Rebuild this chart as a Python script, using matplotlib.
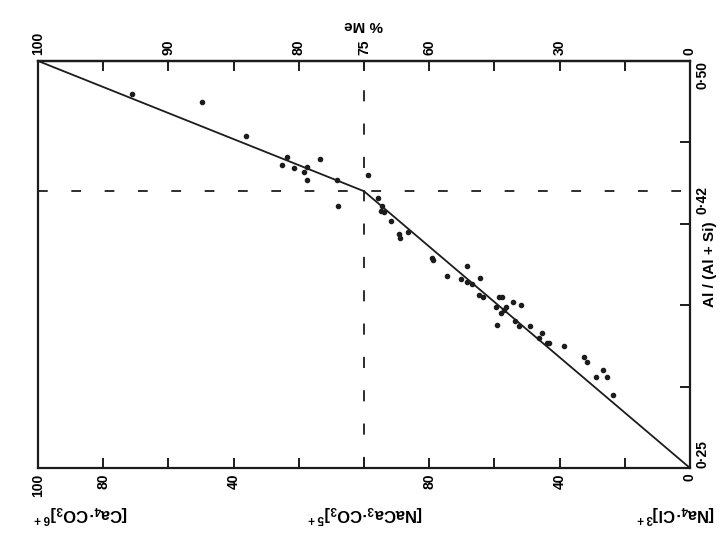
import matplotlib
matplotlib.use('Agg')
import matplotlib.pyplot as plt
import numpy as np

# horizontal position runs 0..10 across the frame (tick units)
me_pos = [1.44, 2.52, 3.19, 3.82, 3.75, 3.92, 4.13, 4.08, 4.13, 4.33,
          4.59, 4.60, 5.06, 5.21, 5.27, 5.26, 5.30, 5.41, 5.53, 5.56,
          5.68, 6.04, 6.06, 6.28, 6.58, 6.49, 6.58, 6.66, 6.78, 6.77,
          6.82, 7.07, 7.12, 7.02, 7.14, 7.10, 7.18, 7.29, 7.41, 7.04,
          7.31, 7.38, 7.54, 7.73, 7.68, 7.80, 7.84, 8.07, 8.37, 8.42,
          8.66, 8.56, 8.72, 8.82]
al_ratio = [0.480, 0.475, 0.454, 0.441, 0.436, 0.434, 0.435, 0.432, 0.427, 0.440,
            0.427, 0.411, 0.430, 0.416, 0.411, 0.408, 0.407, 0.402, 0.394, 0.391,
            0.395, 0.379, 0.378, 0.368, 0.374, 0.366, 0.364, 0.363, 0.367, 0.356,
            0.355, 0.355, 0.355, 0.349, 0.347, 0.345, 0.349, 0.352, 0.350, 0.338,
            0.340, 0.337, 0.337, 0.333, 0.330, 0.327, 0.327, 0.325, 0.318, 0.315,
            0.310, 0.306, 0.306, 0.295]

fit_x = [0, 5, 10]
fit_y = [0.50, 0.42, 0.25]
knee_x, knee_y = 5, 0.42

top_labels = ['100', '', '90', '', '80', '75', '60', '', '30', '', '0']
bottom_labels = ['100', '80', '', '40', '', '', '80', '', '40', '', '0']
right_ticks = [0.25, 0.30, 0.35, 0.40, 0.45, 0.50]
right_labels = ['0·25', '', '', '', '', '0·50']
end_members = [r'[Ca$_4$·CO$_3$]$^{6+}$', r'[NaCa$_3$·CO$_3$]$^{5+}$', r'[Na$_4$·Cl]$^{3+}$']

plt.rcParams['font.family'] = ['Liberation Sans', 'DejaVu Sans']
plt.rcParams['font.weight'] = 'bold'
plt.rcParams['mathtext.fontset'] = 'custom'
plt.rcParams['mathtext.rm'] = 'Liberation Sans:bold'
plt.rcParams['mathtext.bf'] = 'Liberation Sans:bold'
plt.rcParams['mathtext.default'] = 'bf'
plt.rcParams['lines.scale_dashes'] = False

ink = '#1c1c1c'
fig = plt.figure(figsize=(7.25, 5.38), dpi=100)
ax = fig.add_axes([0.0524, 0.1301, 0.8993, 0.7566])

ax.plot(fit_x, fit_y, color=ink, lw=1.3)
ax.axvline(knee_x, color=ink, lw=1.3, dashes=(8, 16))
ax.axhline(knee_y, color=ink, lw=1.3, dashes=(7, 17))
ax.plot(me_pos, al_ratio, 'o', ms=3.0, color=ink)

ax.set_xlim(0, 10)
ax.set_ylim(0.25, 0.50)
for sp in ax.spines.values():
    sp.set_linewidth(1.6)
    sp.set_color(ink)

ax.set_xticks(range(11), labels=bottom_labels)
ax.tick_params(axis='x', direction='in', length=7, width=1.4, color=ink,
               labelsize=10, labelrotation=90, pad=4)

sec = ax.secondary_xaxis('top')
sec.set_xticks(range(11), labels=top_labels)
sec.tick_params(direction='in', length=7, width=1.4, color=ink,
                labelsize=10, labelrotation=90, pad=4)
sec.spines['top'].set_linewidth(1.6)
sec.set_xlabel('% Me', fontsize=11, fontweight='bold', rotation=180, labelpad=2)

ax.yaxis.tick_right()
ax.set_yticks(right_ticks, labels=right_labels)
ax.set_yticks([knee_y], labels=['0·42'], minor=True)
ax.tick_params(axis='y', which='major', direction='in', length=7, width=1.4,
               color=ink, labelsize=10, labelrotation=90, pad=4)
ax.tick_params(axis='y', which='minor', length=0, labelsize=10,
               labelrotation=90, pad=4)
for lab in ax.get_yticklabels():
    if lab.get_text() == '0·50':
        lab.set_va('top')
    elif lab.get_text() == '0·25':
        lab.set_va('bottom')
ax.yaxis.set_label_position('right')
ax.set_ylabel('Al / (Al + Si)', fontsize=11, fontweight='bold', rotation=90)
ax.yaxis.set_label_coords(1.02, 0.5)

# end-member names under the bottom axis, upside down like the scan
for xf, txt in zip([0.066, 0.502, 0.978], end_members):
    ax.text(xf, -0.113, txt, transform=ax.transAxes, rotation=180,
            ha='center', va='center', fontsize=12, fontweight='bold')

fig.savefig('out.png', dpi=100)
